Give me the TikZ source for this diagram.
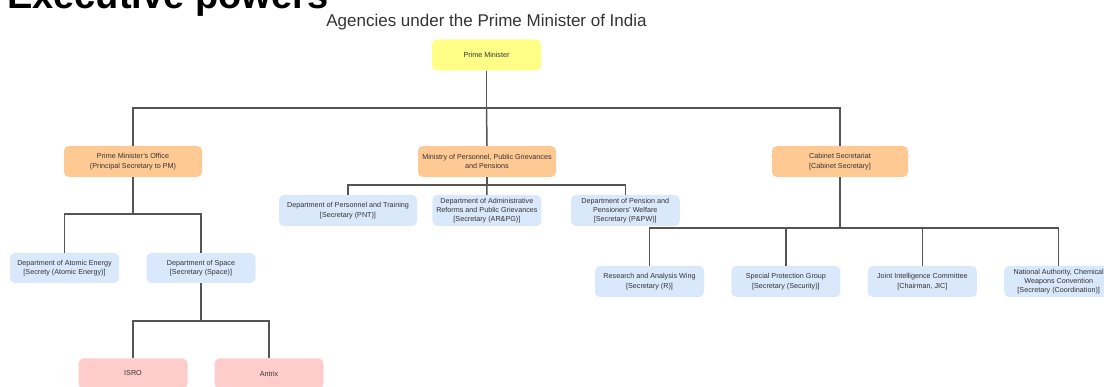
\documentclass[tikz,border=0pt]{standalone}
\usepackage{fontspec}
\setmainfont{Liberation Sans}
\usetikzlibrary{positioning}
\definecolor{pmyellow}{HTML}{FFFF88}
\definecolor{deptorange}{HTML}{FFC994}
\definecolor{unitblue}{HTML}{DAE8FC}
\definecolor{psupink}{HTML}{FFCCCC}
\definecolor{linkgray}{HTML}{555555}
\definecolor{textgray}{HTML}{333333}

\begin{document}
\begin{tikzpicture}[
      x=1pt, y=-1pt,
      every node/.append style={font=\fontsize{7.2}{9.3}\selectfont, text=textgray},
      box/.style={rectangle, rounded corners=5pt, draw=none, inner sep=1pt,
                  minimum height=30pt, minimum width=109pt, align=center,
                  fill=unitblue},
      pmbox/.style={box, fill=pmyellow, minimum height=31pt},
      obox/.style={box, fill=deptorange, minimum height=31pt, minimum width=138pt},
      pbox/.style={box, fill=psupink},
      link/.style={draw=linkgray, line width=1.5pt},
    ]
      \useasboundingbox (0,0) rectangle (1104,387);

      \node[anchor=base west, inner sep=0pt, text=black,
            font=\fontsize{38}{40}\selectfont\bfseries] (title) at (7,9) {Executive powers};
      \node[anchor=base, inner sep=0pt,
            font=\fontsize{17}{19}\selectfont] (sub) at (486.5,27) {Agencies under the Prime Minister of India};

      % top level
      \node[pmbox] (PM) at (486.5,55) {Prime Minister};

      \node[obox] (PMO) at (133,161.5) {Prime Minister's Office \\ (Principal Secretary to PM)};
      \node[obox] (MIN) at (487,161.5) {Ministry of Personnel, Public Grievances \\ and Pensions};
      \node[obox, minimum width=136pt] (CS) at (840,161.5) {Cabinet Secretariat \\ {[}Cabinet Secretary{]}};

      % under the PMO
      \node[box] (DAE) at (64.5,268) {Department of Atomic Energy \\ {[}Secrety (Atomic Energy){]}};
      \node[box] (DOS) at (201,268) {Department of Space \\ {[}Secretary (Space){]}};
      \node[pbox] (ISRO) at (133,373.5) {ISRO};
      \node[pbox] (ANT) at (269,373.5) {Antrix};

      % under the ministry
      \node[box, minimum width=138pt, minimum height=31pt] (PNT) at (348,210.5) {Department of Personnel and Training \\ {[}Secretary (PNT){]}};
      \node[box, minimum height=31pt, right=15pt of PNT] (ARPG) {Department of Administrative \\ Reforms and Public Grievances \\ {[}Secretary (AR\&PG){]}};
      \node[box, minimum height=31pt, right=29pt of ARPG] (PPW) {Department of Pension and \\ Pensioners' Welfare \\ {[}Secretary (P\&PW){]}};

      % under the cabinet secretariat
      \node[box, minimum height=31pt] (RAW) at (649.5,281.5) {Research and Analysis Wing \\ {[}Secretary (R){]}};
      \node[box, minimum height=31pt, right=27pt of RAW] (SPG) {Special Protection Group \\ {[}Secretary (Security){]}};
      \node[box, minimum height=31pt, right=27pt of SPG] (JIC) {Joint Intelligence Committee \\ {[}Chairman, JIC{]}};
      \node[box, minimum height=31pt, right=27pt of JIC] (NAC) {National Authority, Chemical \\ Weapons Convention \\ {[}Secretary (Coordination){]}};

      \coordinate (busPM) at (PM.south |- 0,108);
      \coordinate (busPMO) at (PMO.south |- 0,214);
      \coordinate (busDOS) at (DOS.south |- 0,321);
      \coordinate (busMIN) at (MIN.south |- 0,185);
      \coordinate (busCS) at (CS.south |- 0,228);

      \draw[link] (PM.south) -- (busPM) -| (PMO.north);
      \draw[link] (busPM) -| (CS.north);
      \draw[link] (busPM) -- (MIN.north);

      \draw[link] (PMO.south) -- (busPMO) -| (DAE.north);
      \draw[link] (busPMO) -| (DOS.north);

      \draw[link] (DOS.south) -- (busDOS) -| (ISRO.north);
      \draw[link] (busDOS) -| (ANT.north);

      \draw[link] (MIN.south) -- (busMIN) -| (PNT.north);
      \draw[link] (busMIN) -| (PPW.north);
      \draw[link] (busMIN) -- (ARPG.north);

      \draw[link] (CS.south) -- (busCS) -| (RAW.north);
      \draw[link] (busCS) -| (SPG.north);
      \draw[link] (busCS) -| (JIC.north);
      \draw[link] (busCS) -| (NAC.north);
    \end{tikzpicture}
\end{document}
